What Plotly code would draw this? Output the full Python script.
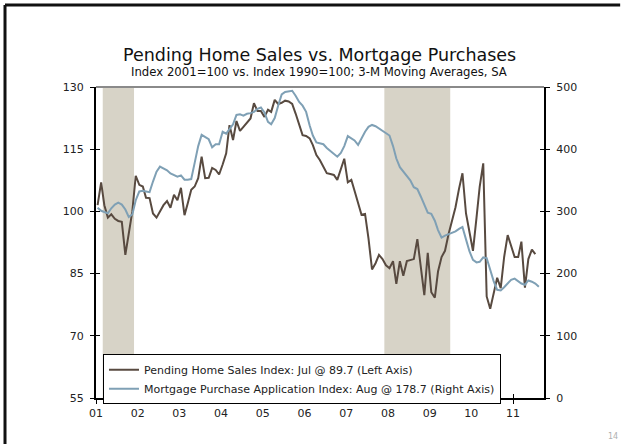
import plotly.graph_objects as go
import pandas as pd

# Pending Home Sales Index (Left axis), monthly Jan 2001 - Jul 2011
pending = [
    101.5, 107.0, 101.5, 98.5, 99.3, 98.2, 97.7, 97.5, 89.5, 95.0, 100.0, 108.6,
    106.4, 106.0, 103.3, 103.2, 99.5, 98.5, 99.9, 101.5, 102.5, 100.9, 104.0, 102.7,
    105.7, 99.1, 101.9, 105.2, 106.0, 108.0, 113.2, 108.0, 108.1, 110.5, 110.0, 108.9,
    111.3, 114.0, 120.8, 117.2, 121.8, 119.4, 120.4, 121.5, 122.4, 126.1, 124.2, 124.2,
    122.8, 124.5, 124.0, 126.9, 125.9, 126.2, 126.7, 126.5, 125.9, 123.6, 120.8, 118.4,
    118.2, 117.6, 116.0, 113.6, 112.4, 110.9, 109.2, 109.0, 108.8, 107.6, 110.1, 112.7,
    107.0, 107.6, 105.0, 102.0, 99.2, 99.4, 93.5, 86.0, 87.5, 89.5, 88.5, 87.0,
    86.3, 88.0, 82.5, 88.0, 84.5, 88.0, 88.2, 88.5, 93.3, 86.0, 79.8, 90.0,
    80.5, 79.2, 85.5, 89.0, 90.5, 94.5, 98.0, 101.0, 105.5, 109.2, 99.5, 95.0,
    90.5, 98.5, 106.0, 111.6, 79.5, 76.5, 80.0, 84.0, 81.5, 89.0, 94.3, 91.5,
    89.0, 89.0, 92.7, 81.6, 88.5, 90.8, 89.7,
]

# Mortgage Purchase Application Index (Right axis), monthly Jan 2001 - Aug 2011
mortgage = [
    306, 301, 299, 297, 305, 311, 314, 311, 303, 291, 295, 318,
    332, 333, 332, 331, 348, 364, 372, 369, 366, 361, 358, 356,
    358, 351, 351, 352, 378, 405, 423, 420, 416, 403, 408, 408,
    428, 425, 432, 440, 455, 456, 454, 457, 458, 460, 465, 467,
    459, 444, 440, 450, 470, 488, 492, 493, 494, 486, 476, 470,
    460, 438, 422, 411, 410, 408, 402, 397, 393, 388, 394, 405,
    421, 418, 414, 407, 418, 428, 436, 439, 437, 433, 430, 426,
    422, 405, 385, 371, 364, 356, 350, 339, 336, 324, 310, 298,
    296, 285, 270, 258, 261, 263, 265, 268, 272, 275, 255, 236,
    222, 218, 219, 226, 225, 206, 188, 174, 173, 178, 184, 190,
    192, 188, 184, 182, 189, 187, 184, 178.7,
]

start_month = "2001-01-01"
recessions = [("2001-03-01", "2001-11-30"), ("2007-12-01", "2009-06-30")]
x_range = ["2001-01-01", "2011-09-29"]
left_range = [55, 130]
right_range = [0, 500]

title_text = "Pending Home Sales vs. Mortgage Purchases"
subtitle_text = "Index 2001=100 vs. Index 1990=100; 3-M Moving Averages, SA"
pending_name = "Pending Home Sales Index: Jul @ 89.7 (Left Axis)"
mortgage_name = "Mortgage Purchase Application Index: Aug @ 178.7 (Right Axis)"
page_number = "14"

BROWN = "#584a40"
BLUE = "#7fa0b5"
SHADE = "#d7d3c7"
FONT = "DejaVu Sans"

dates_p = pd.date_range(start_month, periods=len(pending), freq="MS") + pd.Timedelta(days=14)
dates_m = pd.date_range(start_month, periods=len(mortgage), freq="MS") + pd.Timedelta(days=14)

fig = go.Figure()
fig.add_trace(go.Scatter(x=dates_p, y=pending, mode="lines", name=pending_name,
                         line=dict(color=BROWN, width=2), xaxis="x", yaxis="y"))
fig.add_trace(go.Scatter(x=dates_m, y=mortgage, mode="lines", name=mortgage_name,
                         line=dict(color=BLUE, width=2), xaxis="x", yaxis="y2"))
# helper traces so the inside-tick overlay axes are drawn
fig.add_trace(go.Scatter(x=[None], y=[None], xaxis="x2", yaxis="y", showlegend=False, hoverinfo="skip"))
fig.add_trace(go.Scatter(x=[None], y=[None], xaxis="x", yaxis="y3", showlegend=False, hoverinfo="skip"))
fig.add_trace(go.Scatter(x=[None], y=[None], xaxis="x", yaxis="y4", showlegend=False, hoverinfo="skip"))

shapes = []
for r0, r1 in recessions:
    shapes.append(dict(type="rect", xref="x", yref="paper", x0=r0, x1=r1, y0=0, y1=1,
                       fillcolor=SHADE, line=dict(width=0), layer="below"))
# grey top border of the plot area
shapes.append(dict(type="line", xref="paper", yref="paper", x0=0, x1=1, y0=1, y1=1,
                   line=dict(color="#8a8a8a", width=2)))
# slide frame
shapes.append(dict(type="line", xref="paper", yref="paper", x0=-0.2031, x1=1.17, y0=1.2637, y1=1.2637,
                   line=dict(color="#111111", width=3)))
shapes.append(dict(type="line", xref="paper", yref="paper", x0=-0.2031, x1=-0.2031, y0=1.2637, y1=-0.148,
                   line=dict(color="#111111", width=3)))

tickfont = dict(family=FONT, size=11, color="#222222")
common_x = dict(type="date", range=x_range, dtick="M12", tick0=start_month, showgrid=False, zeroline=False)

fig.update_layout(
    width=622, height=444,
    margin=dict(l=96, r=78, t=87, b=46),
    paper_bgcolor="white", plot_bgcolor="white",
    font=dict(family=FONT, size=11, color="#222222"),
    showlegend=True,
    legend=dict(x=0.0156, y=0.141, xanchor="left", yanchor="top",
                bgcolor="white", bordercolor="black", borderwidth=1,
                font=dict(family=FONT, size=11, color="#222222"),
                tracegroupgap=0, itemwidth=30),
    xaxis=dict(**common_x, tickformat="%y", ticks="outside", ticklen=4, tickwidth=1, tickcolor="black",
               showline=True, linecolor="black", linewidth=2, tickfont=tickfont, anchor="y"),
    xaxis2=dict(**common_x, overlaying="x", side="bottom", anchor="y", ticks="inside", ticklen=4,
                tickwidth=1, tickcolor="black", showticklabels=False, showline=False),
    yaxis=dict(range=left_range, dtick=15, tick0=55, side="left", ticks="outside", ticklen=4, tickwidth=1,
               tickcolor="black", showline=True, linecolor="black", linewidth=2, showgrid=False,
               zeroline=False, tickfont=tickfont, ticklabelstandoff=4),
    yaxis2=dict(range=right_range, dtick=100, tick0=0, side="right", overlaying="y", anchor="x",
                ticks="outside", ticklen=4, tickwidth=1, tickcolor="black", showline=True,
                linecolor="black", linewidth=2, showgrid=False, zeroline=False, tickfont=tickfont,
                ticklabelstandoff=4),
    yaxis3=dict(range=left_range, dtick=15, tick0=55, side="left", overlaying="y", anchor="x",
                ticks="inside", ticklen=4, tickwidth=1, tickcolor="black", showticklabels=False,
                showline=False, showgrid=False, zeroline=False),
    yaxis4=dict(range=right_range, dtick=100, tick0=0, side="right", overlaying="y", anchor="x",
                ticks="inside", ticklen=4, tickwidth=1, tickcolor="black", showticklabels=False,
                showline=False, showgrid=False, zeroline=False),
    shapes=shapes,
    annotations=[
        dict(text=title_text, xref="paper", yref="paper", x=0.498, y=1.1029, xanchor="center",
             yanchor="middle", showarrow=False, font=dict(family=FONT, size=17.5, color="#111111")),
        dict(text=subtitle_text, xref="paper", yref="paper", x=0.498, y=1.0482, xanchor="center",
             yanchor="middle", showarrow=False, font=dict(family=FONT, size=11.7, color="#111111")),
        dict(text=page_number, xref="paper", yref="paper", x=1.1696, y=-0.1254, xanchor="right",
             yanchor="middle", showarrow=False, font=dict(family=FONT, size=8, color="#b0b0b0")),
    ],
)

fig.write_html("out.html", config={"displayModeBar": False},
               post_script=("document.body.style.margin='0px';"
                            "document.body.style.overflow='hidden';"
                            "document.documentElement.style.overflow='hidden';"))
